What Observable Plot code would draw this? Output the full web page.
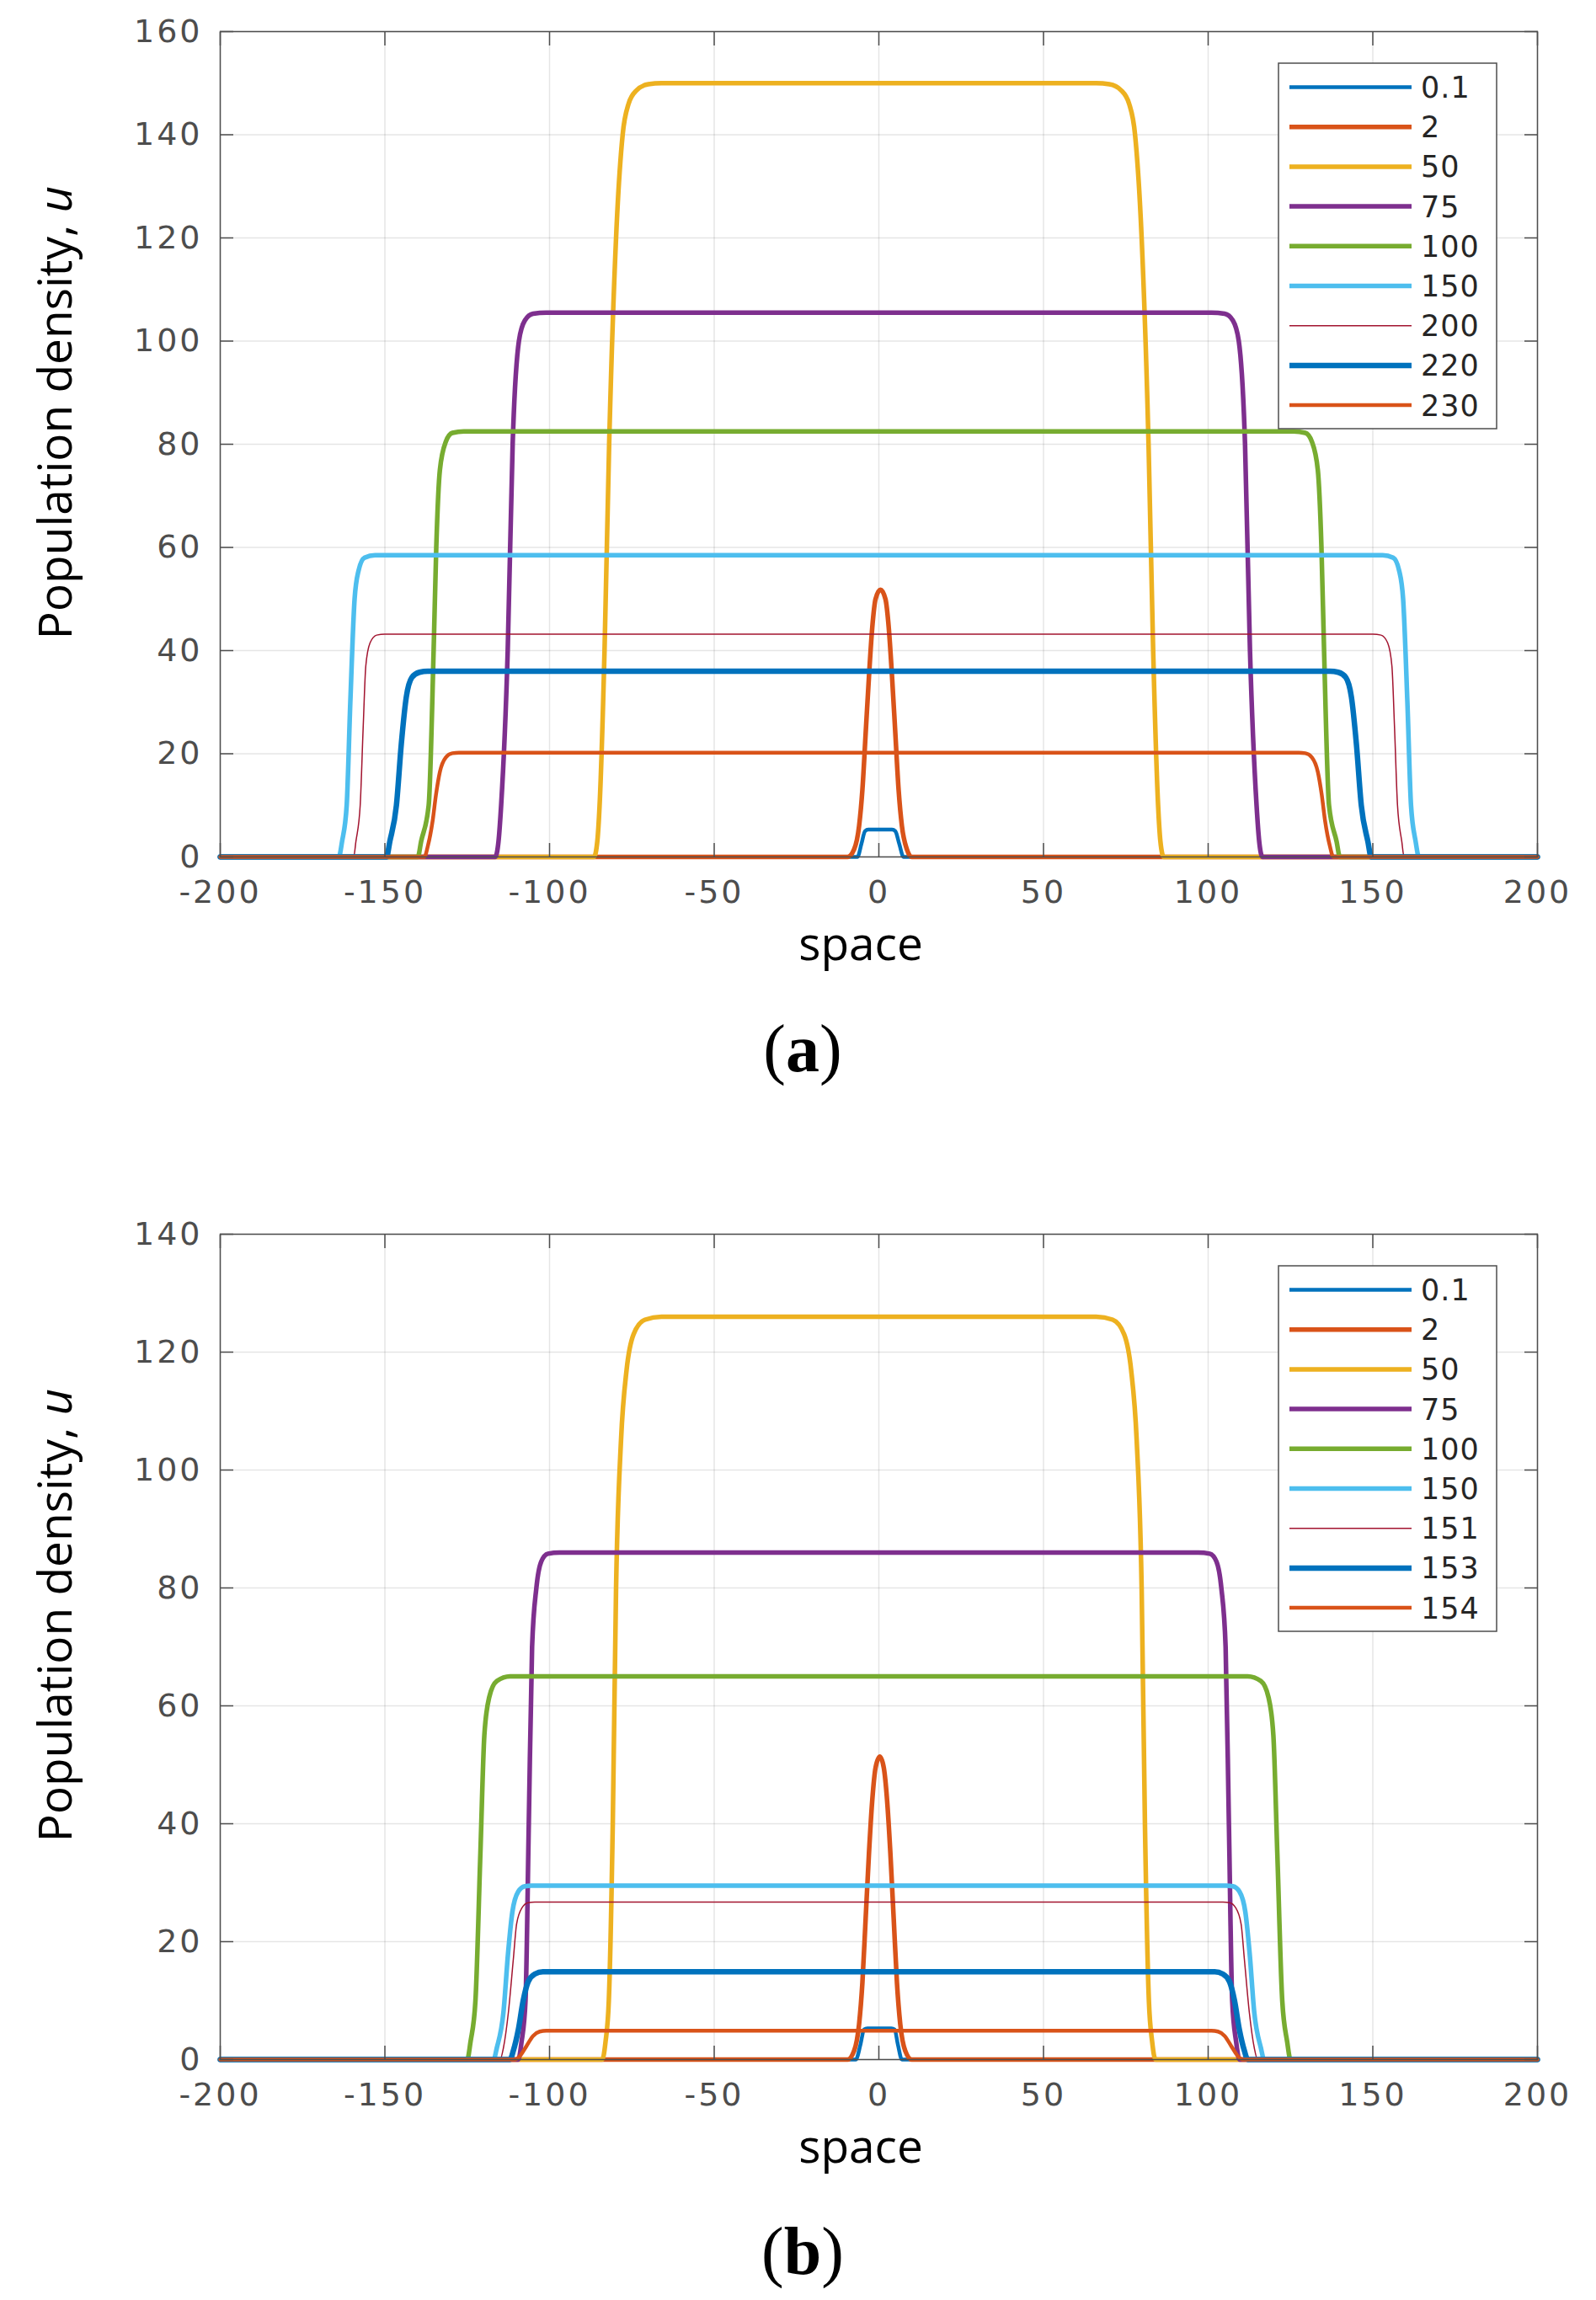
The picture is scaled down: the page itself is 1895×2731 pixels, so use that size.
<!DOCTYPE html>
<html><head><meta charset="utf-8">
<script src="https://cdn.jsdelivr.net/npm/d3@7"></script>
<script src="https://cdn.jsdelivr.net/npm/@observablehq/plot@0.6"></script>
<style>
body{margin:0;background:#fff;}
#page{position:relative;width:1895px;height:2731px;overflow:hidden;background:#fff;}
.panel{position:absolute;left:0;}
#overlay{position:absolute;left:0;top:0;pointer-events:none;}
</style></head><body><div id="page"></div>
<script>
// ---------- ticks ----------
const xTicks = [-200, -150, -100, -50, 0, 50, 100, 150, 200];
const yTicksA = [0, 20, 40, 60, 80, 100, 120, 140, 160];
const yTicksB = [0, 20, 40, 60, 80, 100, 120, 140];

// ---------- legend labels / styles ----------
const labelsA = ["0.1", "2", "50", "75", "100", "150", "200", "220", "230"];
const labelsB = ["0.1", "2", "50", "75", "100", "150", "151", "153", "154"];
const colors = ["#0072BD", "#D95319", "#EDB120", "#7E2F8E", "#77AC30", "#4DBEEE", "#A2142F", "#0072BD", "#D95319"];
const widths = [4.5, 5.5, 5.5, 5.5, 5.5, 5.5, 1.5, 6.5, 4.5];

// ---------- panel (a) series: [space, u] ----------
const a_t0_1 = [[-200,0],[-6.5,0],[-5.3,2.5],[-4.2,5],[-3.2,5.3],[4,5.3],[5,5],[6.2,2.5],[7.5,0],[200,0]];
const a_t2 = [[-200,0],[-9.5,0],[-7.5,1.5],[-6,6],[-5,13],[-4,24],[-3,35],[-2,44.5],[-1,50],[0.5,51.8],[2,50],[3,44.5],[4,35],[5,24],[6,13],[7,6],[8.5,1.5],[10,0],[200,0]];
const a_t50 = [[-200,0],[-86.5,0],[-85.5,3],[-84.8,10],[-83.3,40],[-81.9,80],[-79.8,120],[-77.8,140],[-76,146],[-73.6,148.6],[-70,149.8],[-66,150],[66,150],[70,149.8],[73.6,148.6],[76,146],[77.8,140],[79.8,120],[81.9,80],[83.3,40],[84.8,10],[85.5,3],[86.5,0],[200,0]];
const a_t75 = [[-200,0],[-116.5,0],[-115.5,3],[-114.7,10],[-112.7,40],[-111.2,80],[-109.3,100],[-107.5,104],[-105,105.3],[-101,105.5],[101,105.5],[105,105.3],[107.5,104],[109.3,100],[111.2,80],[112.7,40],[114.7,10],[115.5,3],[116.5,0],[200,0]];
const a_t100 = [[-200,0],[-140,0],[-139,3],[-136.7,10],[-135.2,40],[-134.4,60],[-133.3,75],[-131.5,80.5],[-129.5,82.2],[-126,82.5],[126,82.5],[129.5,82.2],[131.5,80.5],[133.3,75],[134.4,60],[135.2,40],[136.7,10],[139,3],[140,0],[200,0]];
const a_t150 = [[-200,0],[-164,0],[-163,3],[-161.6,10],[-160.5,30],[-159.2,50],[-158,55.5],[-156.2,58],[-153,58.5],[153,58.5],[156.2,58],[158,55.5],[159.2,50],[160.5,30],[161.6,10],[163,3],[164,0],[200,0]];
const a_t200 = [[-200,0],[-159.5,0],[-158.8,3],[-157.5,10],[-156.6,25],[-155.8,37],[-154.5,41.5],[-152.5,43],[-150,43.2],[150,43.2],[152.5,43],[154.5,41.5],[155.8,37],[156.6,25],[157.5,10],[158.8,3],[159.5,0],[200,0]];
const a_t220 = [[-200,0],[-149.5,0],[-148.5,3],[-146.5,10],[-145,22],[-143.5,31],[-141.8,34.8],[-139.5,35.8],[-137,36],[137,36],[139.5,35.8],[141.8,34.8],[143.5,31],[145,22],[146.5,10],[148.5,3],[149.5,0],[200,0]];
const a_t230 = [[-200,0],[-138,0],[-137,2],[-135.5,7],[-134.5,12],[-133.3,16.5],[-131.5,19.3],[-129.5,20.1],[-127.5,20.2],[127.5,20.2],[129.5,20.1],[131.5,19.3],[133.3,16.5],[134.5,12],[135.5,7],[137,2],[138,0],[200,0]];

// ---------- panel (b) series ----------
const b_t0_1 = [[-200,0],[-7,0],[-5.6,2.5],[-4.5,5.1],[-3.5,5.3],[3.8,5.3],[4.8,5.1],[5.8,2.5],[7,0],[200,0]];
const b_t2 = [[-200,0],[-9.5,0],[-7.5,1.5],[-6,6],[-5,13],[-4,24],[-3,35],[-2,44],[-1,49.5],[0.3,51.4],[1.5,49.5],[2.5,44],[3.5,35],[4.5,24],[5.5,13],[6.5,6],[8,1.5],[10,0],[200,0]];
const b_t50 = [[-200,0],[-84,0],[-83,3],[-82,10],[-80.8,40],[-79.8,80],[-78.3,105],[-76.6,117],[-74.5,123],[-71,125.5],[-66,126],[66,126],[71,125.5],[74.5,123],[76.6,117],[78.3,105],[79.8,80],[80.8,40],[82,10],[83,3],[84,0],[200,0]];
const b_t75 = [[-200,0],[-109.5,0],[-108.5,3],[-107.3,10],[-106.3,40],[-105.3,70],[-104,80],[-102.5,84.5],[-100.5,85.8],[-97,86],[97,86],[100.5,85.8],[102.5,84.5],[104,80],[105.3,70],[106.3,40],[107.3,10],[108.5,3],[109.5,0],[200,0]];
const b_t100 = [[-200,0],[-125,0],[-124,3],[-122.5,10],[-121,35],[-119.8,55],[-118.3,61.5],[-116,64.2],[-112,65],[112,65],[116,64.2],[118.3,61.5],[119.8,55],[121,35],[122.5,10],[124,3],[125,0],[200,0]];
const b_t150 = [[-200,0],[-117,0],[-116,2],[-114,8],[-112.6,18],[-111.3,25],[-109.5,28.5],[-107.5,29.4],[-105.5,29.5],[105.5,29.5],[107.5,29.4],[109.5,28.5],[111.3,25],[112.6,18],[114,8],[116,2],[117,0],[200,0]];
const b_t151 = [[-200,0],[-115,0],[-114,2],[-112.5,8],[-111,17],[-110,23],[-108.3,25.8],[-106.5,26.6],[-104.5,26.7],[104.5,26.7],[106.5,26.6],[108.3,25.8],[110,23],[111,17],[112.5,8],[114,2],[115,0],[200,0]];
const b_t153 = [[-200,0],[-112,0],[-111,1.5],[-109.5,5],[-108,10],[-106.5,13.2],[-104.5,14.5],[-102,14.9],[102,14.9],[104.5,14.5],[106.5,13.2],[108,10],[109.5,5],[111,1.5],[112,0],[200,0]];
const b_t154 = [[-200,0],[-110.5,0],[-109,0.6],[-107,2.3],[-105,4],[-103,4.75],[-101,4.9],[101,4.9],[103,4.75],[105,4],[107,2.3],[109,0.6],[110.5,0],[200,0]];

const seriesA = [a_t0_1, a_t2, a_t50, a_t75, a_t100, a_t150, a_t200, a_t220, a_t230];
const seriesB = [b_t0_1, b_t2, b_t50, b_t75, b_t100, b_t150, b_t151, b_t153, b_t154];

const W = 1895, H = 1150, ML = 261, MR = 70, MT = 37, MB = 133;
const OFFSET_B = 1428;
const page = document.getElementById("page");
const fmt = d => String(d);

function makePanel(series, yTicks, yMax, top) {
  const marks = [
    Plot.gridX(xTicks, {stroke: "#000", strokeOpacity: 0.1, strokeWidth: 1.5}),
    Plot.gridY(yTicks, {stroke: "#000", strokeOpacity: 0.1, strokeWidth: 1.5})
  ];
  series.forEach((s, i) => {
    marks.push(Plot.line(s, {x: d => d[0], y: d => d[1], stroke: colors[i], strokeWidth: widths[i], curve: "monotone-x"}));
  });
  marks.push(
    Plot.frame({stroke: "#4d4d4d", strokeWidth: 1.5}),
    Plot.axisX(xTicks, {anchor: "bottom", tickSize: -16, tickPadding: 44, label: null, fontSize: 38, strokeWidth: 1.5, tickFormat: fmt}),
    Plot.axisX(xTicks, {anchor: "top", tickSize: -16, tickFormat: () => "", label: null, strokeWidth: 1.5}),
    Plot.axisY(yTicks, {anchor: "left", tickSize: -16, tickPadding: 37, label: null, fontSize: 38, strokeWidth: 1.5, tickFormat: fmt}),
    Plot.axisY(yTicks, {anchor: "right", tickSize: -16, tickFormat: () => "", label: null, strokeWidth: 1.5})
  );
  const svg = Plot.plot({
    width: W, height: H,
    marginLeft: ML, marginRight: MR, marginTop: MT, marginBottom: MB,
    x: {domain: [-200, 200]},
    y: {domain: [0, yMax]},
    style: {fontFamily: "DejaVu Sans", fontSize: "38px", color: "#4d4d4d", letterSpacing: "3px", background: "transparent", overflow: "visible"},
    marks
  });
  svg.classList.add("panel");
  svg.style.top = top + "px";
  svg.style.position = "absolute";
  svg.style.left = "0px";
  page.appendChild(svg);
}

makePanel(seriesA, yTicksA, 160, 0);
makePanel(seriesB, yTicksB, 140, OFFSET_B);

// ---------- overlay: labels, captions, legends ----------
const ov = d3.select(page).append("svg")
  .attr("id", "overlay").attr("width", W).attr("height", 2731);

function panelText(dy, cap, labels) {
  const yl = ov.append("text")
    .attr("transform", `translate(85,${490 + dy}) rotate(-90)`)
    .attr("text-anchor", "middle")
    .attr("font-family", "Open Sans").attr("font-size", 55).attr("fill", "#000");
  yl.append("tspan").text("Population density, ");
  yl.append("tspan").attr("font-style", "italic").text("u");
  ov.append("text").attr("x", 1022).attr("y", 1140 + dy)
    .attr("text-anchor", "middle").attr("font-family", "Open Sans").attr("font-size", 55)
    .attr("fill", "#000").text("space");
  const c = ov.append("text").attr("x", 953).attr("y", 1272 + dy)
    .attr("text-anchor", "middle").attr("font-family", "Liberation Serif").attr("font-size", 80).attr("fill", "#000");
  c.append("tspan").text("(");
  c.append("tspan").attr("font-weight", "bold").text(cap);
  c.append("tspan").text(")");
  const lg = ov.append("g");
  lg.append("rect").attr("x", 1518).attr("y", 75 + dy).attr("width", 259).attr("height", 434)
    .attr("fill", "#fff").attr("stroke", "#4d4d4d").attr("stroke-width", 1.5);
  labels.forEach((lab, i) => {
    const ry = 103.5 + 47.2 * i + dy;
    lg.append("line").attr("x1", 1531).attr("x2", 1676).attr("y1", ry).attr("y2", ry)
      .attr("stroke", colors[i]).attr("stroke-width", widths[i]);
    lg.append("text").attr("x", 1687).attr("y", ry + 12.5)
      .attr("font-family", "DejaVu Sans").attr("font-size", 35).attr("letter-spacing", "1px")
      .attr("fill", "#262626").text(lab);
  });
}
panelText(0, "a", labelsA);
panelText(OFFSET_B, "b", labelsB);
</script>
</body></html>
